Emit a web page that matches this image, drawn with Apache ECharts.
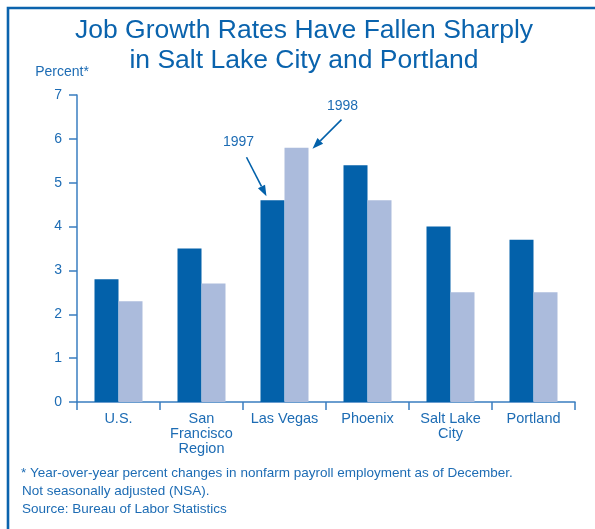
<!DOCTYPE html>
<html><head><meta charset="utf-8">
<script src="https://cdn.jsdelivr.net/npm/echarts@6/dist/echarts.min.js"></script>
<style>html,body{margin:0;padding:0;background:#fff}#c{width:595px;height:529px}</style>
</head><body><div id="c"></div>
<script>
const categories = ['U.S.', 'San\nFrancisco\nRegion', 'Las Vegas', 'Phoenix', 'Salt Lake\nCity', 'Portland'];
const values1997 = [2.8, 3.5, 4.6, 5.4, 4.0, 3.7];
const values1998 = [2.3, 2.7, 5.8, 4.6, 2.5, 2.5];
const yTicks = [0, 1, 2, 3, 4, 5, 6, 7];
const titleLines = ['Job Growth Rates Have Fallen Sharply', 'in Salt Lake City and Portland'];
const footnotes = ['* Year-over-year percent changes in nonfarm payroll employment as of December.',
  'Not seasonally adjusted (NSA).', 'Source: Bureau of Labor Statistics'];

const DARK = '#0361aa', LIGHT = '#abbbdc', TXT = '#1d6cb4', AX = '#3a7ec0';
const FONT = '"Liberation Sans", Arial, Helvetica, sans-serif';
const chart = echarts.init(document.getElementById('c'), null, {renderer: 'canvas'});

const baseGraphic = [
  {type: 'polyline', shape: {points: [[8, 540], [8, 8], [600, 8]]}, style: {stroke: '#0b63ad', lineWidth: 2.6, fill: null}},
  {type: 'text', x: 304, y: 31, style: {text: titleLines[0], font: '26.5px ' + FONT, fill: '#0a63ad', align: 'center', verticalAlign: 'middle'}},
  {type: 'text', x: 304, y: 61, style: {text: titleLines[1], font: '26.5px ' + FONT, fill: '#0a63ad', align: 'center', verticalAlign: 'middle'}},
  {type: 'text', x: 62, y: 72, style: {text: 'Percent*', font: '14px ' + FONT, fill: TXT, align: 'center', verticalAlign: 'middle'}},
  ...footnotes.map((t, i) => ({type: 'text', x: i === 0 ? 21 : 22, y: 473 + i * 18, style: {text: t, font: '13.5px ' + FONT, fill: TXT, align: 'left', verticalAlign: 'middle'}}))
];

chart.setOption({
  animation: false,
  grid: {left: 77, right: 20, top: 95, bottom: 127, containLabel: false},
  xAxis: {
    type: 'category', data: categories,
    axisLine: {lineStyle: {color: AX, width: 1.5}},
    axisTick: {show: true, length: 8, interval: 0, lineStyle: {color: AX, width: 1.5}},
    axisLabel: {interval: 0, margin: 9, color: TXT, fontFamily: FONT, fontSize: 14.5, lineHeight: 15}
  },
  yAxis: {
    type: 'value', min: yTicks[0], max: yTicks[yTicks.length - 1], interval: 1,
    splitLine: {show: false},
    axisLine: {show: true, lineStyle: {color: AX, width: 1.5}},
    axisTick: {show: true, length: 8, lineStyle: {color: AX, width: 1.5}},
    axisLabel: {margin: 15, color: TXT, fontFamily: FONT, fontSize: 14}
  },
  series: [
    {name: '1997', type: 'bar', data: values1997, barWidth: 24, barGap: '0%', itemStyle: {color: DARK}},
    {name: '1998', type: 'bar', data: values1998, barWidth: 24, barGap: '0%', itemStyle: {color: LIGHT}}
  ],
  graphic: baseGraphic
});

function arrow(x1, y1, x2, y2) {
  const a = Math.atan2(y2 - y1, x2 - x1), L = 11, W = 4;
  const bx = x2 - L * Math.cos(a), by = y2 - L * Math.sin(a);
  const px = -Math.sin(a) * W, py = Math.cos(a) * W;
  return [
    {type: 'line', shape: {x1: x1, y1: y1, x2: bx, y2: by}, style: {stroke: DARK, lineWidth: 1.6}},
    {type: 'polygon', shape: {points: [[x2, y2], [bx + px, by + py], [bx - px, by - py]]}, style: {fill: DARK}}
  ];
}
const lv = categories[2];
const p97 = chart.convertToPixel({gridIndex: 0}, [lv, values1997[2]]);
const p98 = chart.convertToPixel({gridIndex: 0}, [lv, values1998[2]]);
const extra = [
  ...arrow(p97[0] - 38, p97[1] - 43, p97[0] - 18, p97[1] - 4),
  {type: 'text', x: p97[0] - 46, y: p97[1] - 58, style: {text: '1997', font: '14px ' + FONT, fill: TXT, align: 'center', verticalAlign: 'middle'}},
  ...arrow(p98[0] + 57, p98[1] - 28, p98[0] + 28, p98[1] + 1),
  {type: 'text', x: p98[0] + 58, y: p98[1] - 41, style: {text: '1998', font: '14px ' + FONT, fill: TXT, align: 'center', verticalAlign: 'middle'}}
];
chart.setOption({graphic: baseGraphic.concat(extra)});
</script></body></html>
